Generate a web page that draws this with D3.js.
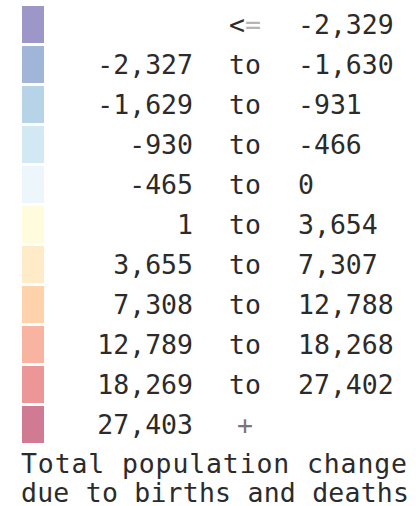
<!DOCTYPE html>
<html>
<head>
<meta charset="utf-8">
<script src="https://cdn.jsdelivr.net/npm/d3@7"></script>
<style>
  html, body { margin: 0; padding: 0; background: #fff; }
  svg { display: block; }
  text { font-family: "DejaVu Sans Mono", monospace; font-size: 26.5px; fill: #2b2b2b; }
</style>
</head>
<body>
<div class="canvas"></div>
<script>
// dimensions
const w = 416;
const h = 506;

// legend classes
const lowLabels = ["", "-2,327", "-1,629", "-930", "-465", "1", "3,655", "7,308", "12,789", "18,269", "27,403"];
const connectors = ["<=", "to", "to", "to", "to", "to", "to", "to", "to", "to", "+"];
const highLabels = ["-2,329", "-1,630", "-931", "-466", "0", "3,654", "7,307", "12,788", "18,268", "27,402", ""];
const swatchColors = ["#9d97c9", "#a0b5d7", "#b6d3e8", "#d2e8f2", "#edf6fb", "#fffbdd", "#ffebc8", "#fed3ab", "#f8b3a1", "#ec9697", "#d07a93"];
const titleLines = ["Total population change", "due to births and deaths"];

const rows = lowLabels.map((d, i) => ({ low: d, conn: connectors[i], high: highLabels[i], color: swatchColors[i] }));

const svg = d3.select(".canvas").append("svg").attr("width", w).attr("height", h);

// one band per class
const yScale = d3
  .scaleBand()
  .domain(d3.range(rows.length))
  .range([6, 443])
  .paddingInner(0.075)
  .paddingOuter(0);

const row = svg
  .selectAll("g.row")
  .data(rows)
  .enter()
  .append("g")
  .attr("class", "row")
  .attr("transform", (d, i) => `translate(0, ${yScale(i)})`);

// color squares
row.append("rect")
  .attr("x", 22)
  .attr("width", 22)
  .attr("height", yScale.bandwidth())
  .attr("fill", d => d.color);

const baseline = 27.5; // from top of band

row.append("text")
  .attr("x", 193)
  .attr("y", baseline)
  .attr("text-anchor", "end")
  .text(d => d.low);

// middle column: "to", "<=" or "+"
row.append("text")
  .attr("x", 245)
  .attr("y", baseline)
  .attr("text-anchor", "middle")
  .each(function (d) {
    const t = d3.select(this);
    if (d.conn === "<=") {
      t.append("tspan").text("<");
      t.append("tspan").style("fill", "#b4b4b4").text("=");
    } else if (d.conn === "+") {
      t.style("fill", "#777").text("+");
    } else {
      t.text(d.conn);
    }
  });

row.append("text")
  .attr("x", 298)
  .attr("y", baseline)
  .text(d => d.high);

// title below the legend
const titleWidths = [386, 388];
svg.selectAll("text.title")
  .data(titleLines)
  .enter()
  .append("text")
  .attr("class", "title")
  .attr("x", 21)
  .attr("y", (d, i) => 473 + i * 28.5)
  .attr("textLength", (d, i) => titleWidths[i])
  .attr("lengthAdjust", "spacing")
  .text(d => d);
</script>
</body>
</html>
